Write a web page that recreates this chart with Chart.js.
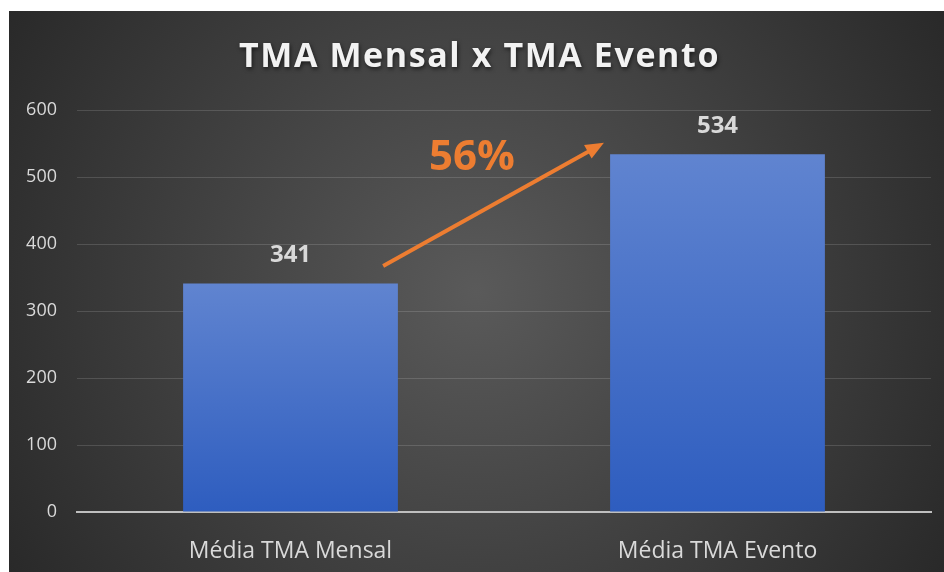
<!DOCTYPE html>
<html>
<head>
<meta charset="utf-8">
<script src="https://cdn.jsdelivr.net/npm/chart.js@4.4.0/dist/chart.umd.min.js"></script>
<style>
  body { margin: 0; background: #fff; }
  #wrap { position: absolute; left: 9px; top: 11px; width: 935px; height: 561px; }
</style>
</head>
<body>
<div id="wrap"><canvas id="tmaChart"></canvas></div>
<script>
// Chart data
const categories = ['Média TMA Mensal', 'Média TMA Evento'];
const tmaValues = [341, 534];
const yTicks = [0, 100, 200, 300, 400, 500, 600];
const titleText = 'TMA Mensal x TMA Evento';
const growthLabel = '56%';

// Background + title
const backdropPlugin = {
    id: 'backdrop',
    beforeDraw(chart) {
        const { ctx, width, height } = chart;
        const g = ctx.createRadialGradient(width * 0.5, height * 0.5, 0, width * 0.5, height * 0.5, width * 0.62);
        g.addColorStop(0, '#5a5a5a');
        g.addColorStop(1, '#262626');
        ctx.save();
        ctx.fillStyle = g;
        ctx.fillRect(0, 0, width, height);
        ctx.restore();
    },
    afterDraw(chart) {
        const { ctx, width } = chart;
        ctx.save();
        ctx.font = 'bold 34px "Open Sans"';
        ctx.letterSpacing = '1.6px';
        ctx.textAlign = 'center';
        ctx.textBaseline = 'middle';
        ctx.shadowColor = 'rgba(0,0,0,0.6)';
        ctx.shadowBlur = 4;
        ctx.shadowOffsetX = 1;
        ctx.shadowOffsetY = 2;
        ctx.fillStyle = '#f2f2f2';
        ctx.fillText(titleText, width / 2 + 3, 46);
        ctx.restore();
    }
};

// Value labels above the bars and the growth arrow
const annotatePlugin = {
    id: 'annotate',
    afterDatasetsDraw(chart) {
        const { ctx } = chart;
        const meta = chart.getDatasetMeta(0);
        const x = chart.scales.x, y = chart.scales.y;
        ctx.save();
        ctx.font = 'bold 24px "Open Sans"';
        ctx.fillStyle = '#d9d9d9';
        ctx.textAlign = 'center';
        ctx.textBaseline = 'middle';
        meta.data.forEach((bar, i) => {
            ctx.fillText(tmaValues[i], bar.x, bar.y - 28);
        });

        // arrow from bar 1 to bar 2
        const x1 = x.getPixelForValue(0.217), y1 = y.getPixelForValue(367);
        const x2 = x.getPixelForValue(0.734), y2 = y.getPixelForValue(551);
        const ang = Math.atan2(y2 - y1, x2 - x1);
        const head = 20;
        ctx.strokeStyle = '#ed7d31';
        ctx.fillStyle = '#ed7d31';
        ctx.lineWidth = 4;
        ctx.beginPath();
        ctx.moveTo(x1, y1);
        ctx.lineTo(x2 - Math.cos(ang) * head * 0.8, y2 - Math.sin(ang) * head * 0.8);
        ctx.stroke();
        ctx.beginPath();
        ctx.moveTo(x2, y2);
        ctx.lineTo(x2 - head * Math.cos(ang - 0.4), y2 - head * Math.sin(ang - 0.4));
        ctx.lineTo(x2 - head * Math.cos(ang + 0.4), y2 - head * Math.sin(ang + 0.4));
        ctx.closePath();
        ctx.fill();

        ctx.font = 'bold 42px "Open Sans"';
        ctx.fillText(growthLabel, x.getPixelForValue(0.425), y.getPixelForValue(528));
        ctx.restore();
    }
};

function barGradient(context) {
    const chart = context.chart;
    if (!chart.chartArea || !chart.scales.y) return '#4472c4';
    const top = chart.scales.y.getPixelForValue(tmaValues[context.dataIndex]);
    const bottom = chart.scales.y.getPixelForValue(0);
    const g = chart.ctx.createLinearGradient(0, top, 0, bottom);
    g.addColorStop(0, '#6084d0');
    g.addColorStop(1, '#2e5dbf');
    return g;
}

const ctx = document.getElementById('tmaChart').getContext('2d');
new Chart(ctx, {
    type: 'bar',
    data: {
        labels: categories,
        datasets: [{
            data: tmaValues,
            backgroundColor: barGradient,
            borderWidth: 0,
            barPercentage: 0.503,
            categoryPercentage: 1
        }]
    },
    options: {
        responsive: true,
        maintainAspectRatio: false,
        animation: false,
        layout: { padding: { top: 99, right: 13, left: 0, bottom: 0 } },
        plugins: {
            legend: { display: false },
            title: { display: false },
            tooltip: { enabled: false }
        },
        scales: {
            x: {
                grid: { display: false },
                border: { display: true, color: '#bfbfbf', width: 2 },
                ticks: {
                    color: '#d9d9d9',
                    font: { family: 'Open Sans', size: 23 },
                    padding: 18
                },
                afterFit(scale) { scale.height = 60; }
            },
            y: {
                min: 0,
                max: 600,
                afterBuildTicks(scale) { scale.ticks = yTicks.map(v => ({ value: v })); },
                grid: { color: 'rgba(255,255,255,0.14)', lineWidth: 1, drawTicks: false },
                border: { display: false },
                ticks: {
                    color: '#d9d9d9',
                    font: { family: 'Open Sans', size: 18 },
                    padding: 20
                },
                afterFit(scale) { scale.width = 68; }
            }
        }
    },
    plugins: [backdropPlugin, annotatePlugin]
});
</script>
</body>
</html>
